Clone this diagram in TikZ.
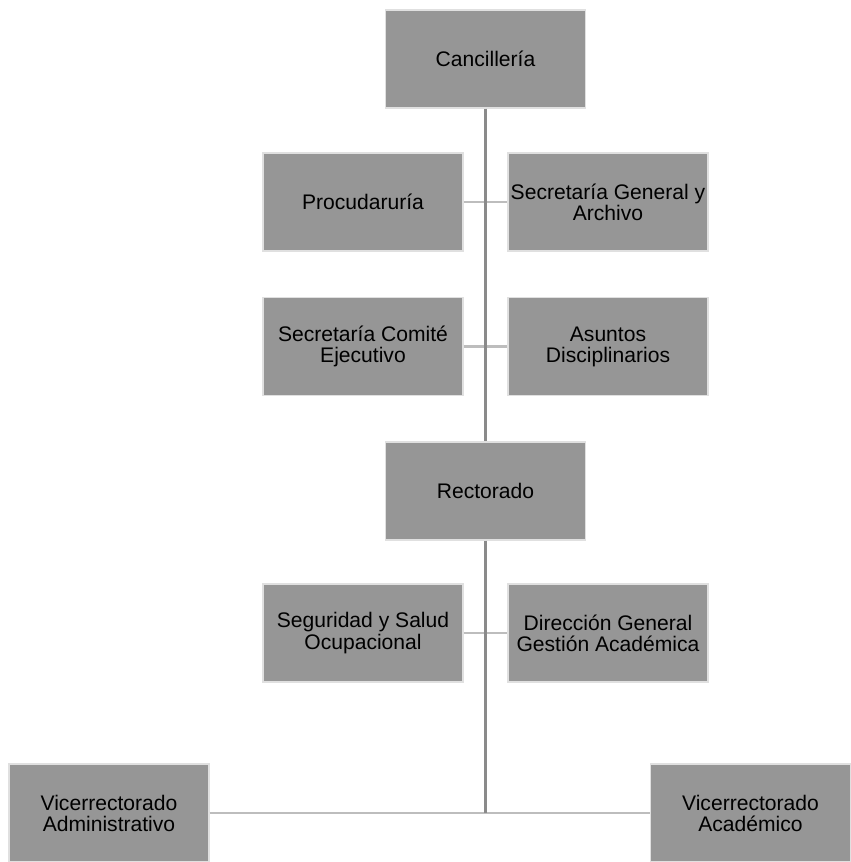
\documentclass[tikz,border=0pt]{standalone}
\usepackage{fontspec}
\setmainfont{Liberation Sans}
\definecolor{boxgray}{HTML}{969696}
\definecolor{trunkgray}{HTML}{8A8A8A}
\definecolor{tiegray}{HTML}{BDBDBD}
\begin{document}
\begin{tikzpicture}[
  unit/.style={draw=black!12,line width=0.4pt,fill=boxgray,minimum width=2cm,minimum height=0.98cm,
    inner sep=0pt,align=center,font=\fontsize{6}{6}\selectfont},
  trunk/.style={draw=trunkgray,line width=0.6pt},
  tie/.style={draw=tiegray,line width=0.6pt}]
\useasboundingbox(0,0) rectangle (8.51,-8.62);
\node[unit](canc) at (4.855,-0.59){Cancillería};
\node[unit](proc) at (3.63,-2.02){Procudaruría};
\node[unit](secg) at (6.08,-2.02){Secretaría General y\\Archivo};
\node[unit](secc) at (3.63,-3.465){Secretaría Comité\\Ejecutivo};
\node[unit](asun) at (6.08,-3.465){Asuntos\\Disciplinarios};
\node[unit](rect) at (4.855,-4.91){Rectorado};
\node[unit](segu) at (3.63,-6.33){Seguridad y Salud\\Ocupacional};
\node[unit](dirg) at (6.08,-6.33){Dirección General\\Gestión Académica};
\node[unit](vadm) at (1.09,-8.13){Vicerrectorado\\Administrativo};
\node[unit](vaca) at (7.505,-8.13){Vicerrectorado\\Académico};
% lines
\draw[tie](proc.east)--(secg.west);
\draw[tie](secc.east)--(asun.west);
\draw[tie](segu.east)--(dirg.west);
\draw[tie](vadm.east)--(vaca.west);
\coordinate(foot) at (rect.south|-vadm.east);
\draw[trunk](canc.south)--(rect.north);
\draw[trunk](rect.south)--(foot);
\end{tikzpicture}
\end{document}
